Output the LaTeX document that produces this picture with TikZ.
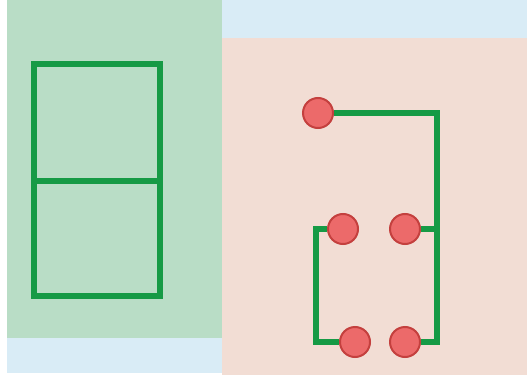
\documentclass[tikz,border=0pt]{standalone}
\definecolor{bggreen}{HTML}{B9DDC6}
\definecolor{bgblue}{HTML}{D9ECF6}
\definecolor{bgpink}{HTML}{F2DDD4}
\definecolor{wire}{HTML}{169A45}
\definecolor{padfill}{HTML}{EC6A6A}
\definecolor{padedge}{HTML}{C4403E}
\pgfdeclarelayer{bglayer}
\pgfdeclarelayer{wirelayer}
\pgfsetlayers{bglayer,wirelayer,main}
\tikzset{
  wireline/.style={draw=wire, line width=6pt, line join=miter},
  pad/.style={circle, minimum size=30pt, inner sep=0pt, fill=padfill, draw=padedge, line width=2pt}
}
\begin{document}
\begin{tikzpicture}[x=1pt, y=-1pt]
\useasboundingbox (0,0) rectangle (527,377);
\begin{pgfonlayer}{bglayer}
\fill[white] (0,0) rectangle (527,377);
\fill[bggreen] (7,0) rectangle (222,338);
\fill[bgblue] (7,338) rectangle (222,373);
\fill[bgblue] (222,0) rectangle (527,38);
\fill[bgpink] (222,38) rectangle (527,375);
\end{pgfonlayer}
% left frame
\coordinate (ftl) at (34,64);
\coordinate (fbr) at (160,296);
\coordinate (fml) at (34,181);
\coordinate (fmr) at (160,181);
\draw[wireline] (ftl) rectangle (fbr);
\draw[wireline] (fml) -- (fmr);
% right circuit
\coordinate (br) at (437,342);
\coordinate (mr) at (437,229);
\coordinate (bl) at (316,342);
\coordinate (ml) at (316,229);
\node[pad] (c1) at (318,113) {};
\node[pad] (c2) at (343,229) {};
\node[pad] (c3) at (405,229) {};
\node[pad] (c4) at (355,342) {};
\node[pad] (c5) at (405,342) {};
\begin{pgfonlayer}{wirelayer}
\draw[wireline] (c1.east) -| (br) -- (c5.east);
\draw[wireline] (c3.east) -- (mr);
\draw[wireline] (c2.west) -- (ml) -- (bl) -- (c4.west);
\end{pgfonlayer}
\end{tikzpicture}
\end{document}
